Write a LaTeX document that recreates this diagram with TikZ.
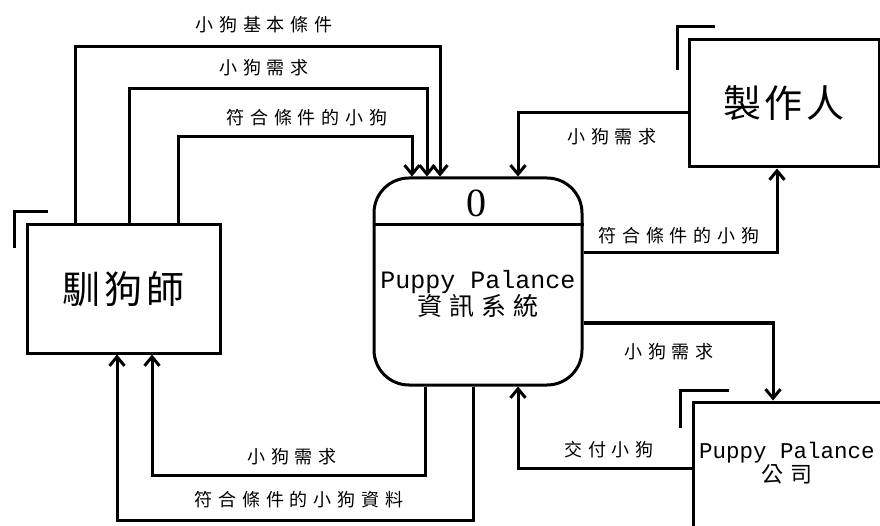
\documentclass[tikz,border=0pt]{standalone}
\usepackage{fontspec}
\setmainfont{Liberation Mono}
\newfontfamily\digitfont{Liberation Serif}
\newfontfamily\cjklbl[LetterSpace=33]{Noto Sans CJK TC}
\newfontfamily\cjkmid[LetterSpace=28]{Noto Sans CJK TC}
\newfontfamily\cjkbig[LetterSpace=10]{Noto Sans CJK TC}
\usetikzlibrary{arrows.meta}
\begin{document}
\begin{tikzpicture}[x=1pt,y=-1pt]
    \tikzset{entity/.style = {draw,line width=3pt,inner sep=0pt}}
    \tikzset{proc/.style = {draw,line width=3pt,rounded corners=35pt,inner sep=0pt,minimum width=208pt,minimum height=207pt}}
    \tikzset{flow/.style = {line width=3pt,-{Straight Barb[length=9pt,width=15pt]}}}
    \tikzset{lbl/.style = {font=\fontsize{18}{20}\cjklbl,inner sep=0pt}}
    \tikzset{cornermark/.style = {line width=3pt}}
    \clip (0,0) rectangle (880,526);
    \node[entity,minimum width=193pt,minimum height=128pt,font=\fontsize{38}{40}\cjkbig] (tr) at (123.5,289) {馴狗師};
    \node[entity,minimum width=190pt,minimum height=127pt,font=\fontsize{38}{40}\cjkbig] (pr) at (784,103.5) {製作人};
    \node[entity,minimum width=210pt,minimum height=160pt] (co) at (798,482) {};
    \node[proc] (sys) at (478,281.5) {};
    \node[font=\fontsize{40}{42}\digitfont,inner sep=0pt] (sysid) at (476,203) {0};
    \node[align=center,inner sep=0pt] (systxt) at (478,294) {\fontsize{25}{33}\selectfont Puppy Palance\\\fontsize{25}{33}\cjkmid 資訊系統};
    \node[align=center,inner sep=0pt] (cotxt) at (787,463) {\fontsize{22.5}{29}\selectfont Puppy Palance\\\fontsize{22}{29}\cjkmid 公司};
    \draw[line width=3pt] (sys.west |- 0,225) -- (sys.east |- 0,225);
    \draw[cornermark] (14,248) |- (48,212);
    \draw[cornermark] (677,70) |- (715,27);
    \draw[cornermark] (680,428) |- (729,390);
    \draw[flow] (tr.north -| 75,0) |- (440,47) -- (sys.north -| 440,0);
    \draw[flow] (tr.north -| 129,0) |- (427,89) -- (sys.north -| 427,0);
    \draw[flow] (tr.north -| 178,0) |- (412,137) -- (sys.north -| 412,0);
    \draw[flow] (pr.west |- 0,113) -| (sys.north -| 518,0);
    \draw[flow] (sys.east |- 0,253) -| (pr.south -| 777,0);
    \draw[flow] (sys.east |- 0,323) -| (co.north -| 773,0);
    \draw[flow] (co.west |- 0,468) -| (sys.south -| 518,0);
    \draw[flow] (sys.south -| 425,0) |- (152,475) -- (tr.south -| 152,0);
    \draw[flow] (sys.south -| 473,0) |- (117,520) -- (tr.south -| 117,0);
    \node[lbl] (l1) at (264,25) {小狗基本條件};
    \node[lbl] (l2) at (264,68) {小狗需求};
    \node[lbl] (l3) at (307,118) {符合條件的小狗};
    \node[lbl] (l4) at (612,137) {小狗需求};
    \node[lbl] (l5) at (679,236) {符合條件的小狗};
    \node[lbl] (l6) at (669,352) {小狗需求};
    \node[lbl] (l7) at (609,450) {交付小狗};
    \node[lbl] (l8) at (292,457) {小狗需求};
    \node[lbl] (l9) at (299,500) {符合條件的小狗資料};
\end{tikzpicture}
\end{document}
